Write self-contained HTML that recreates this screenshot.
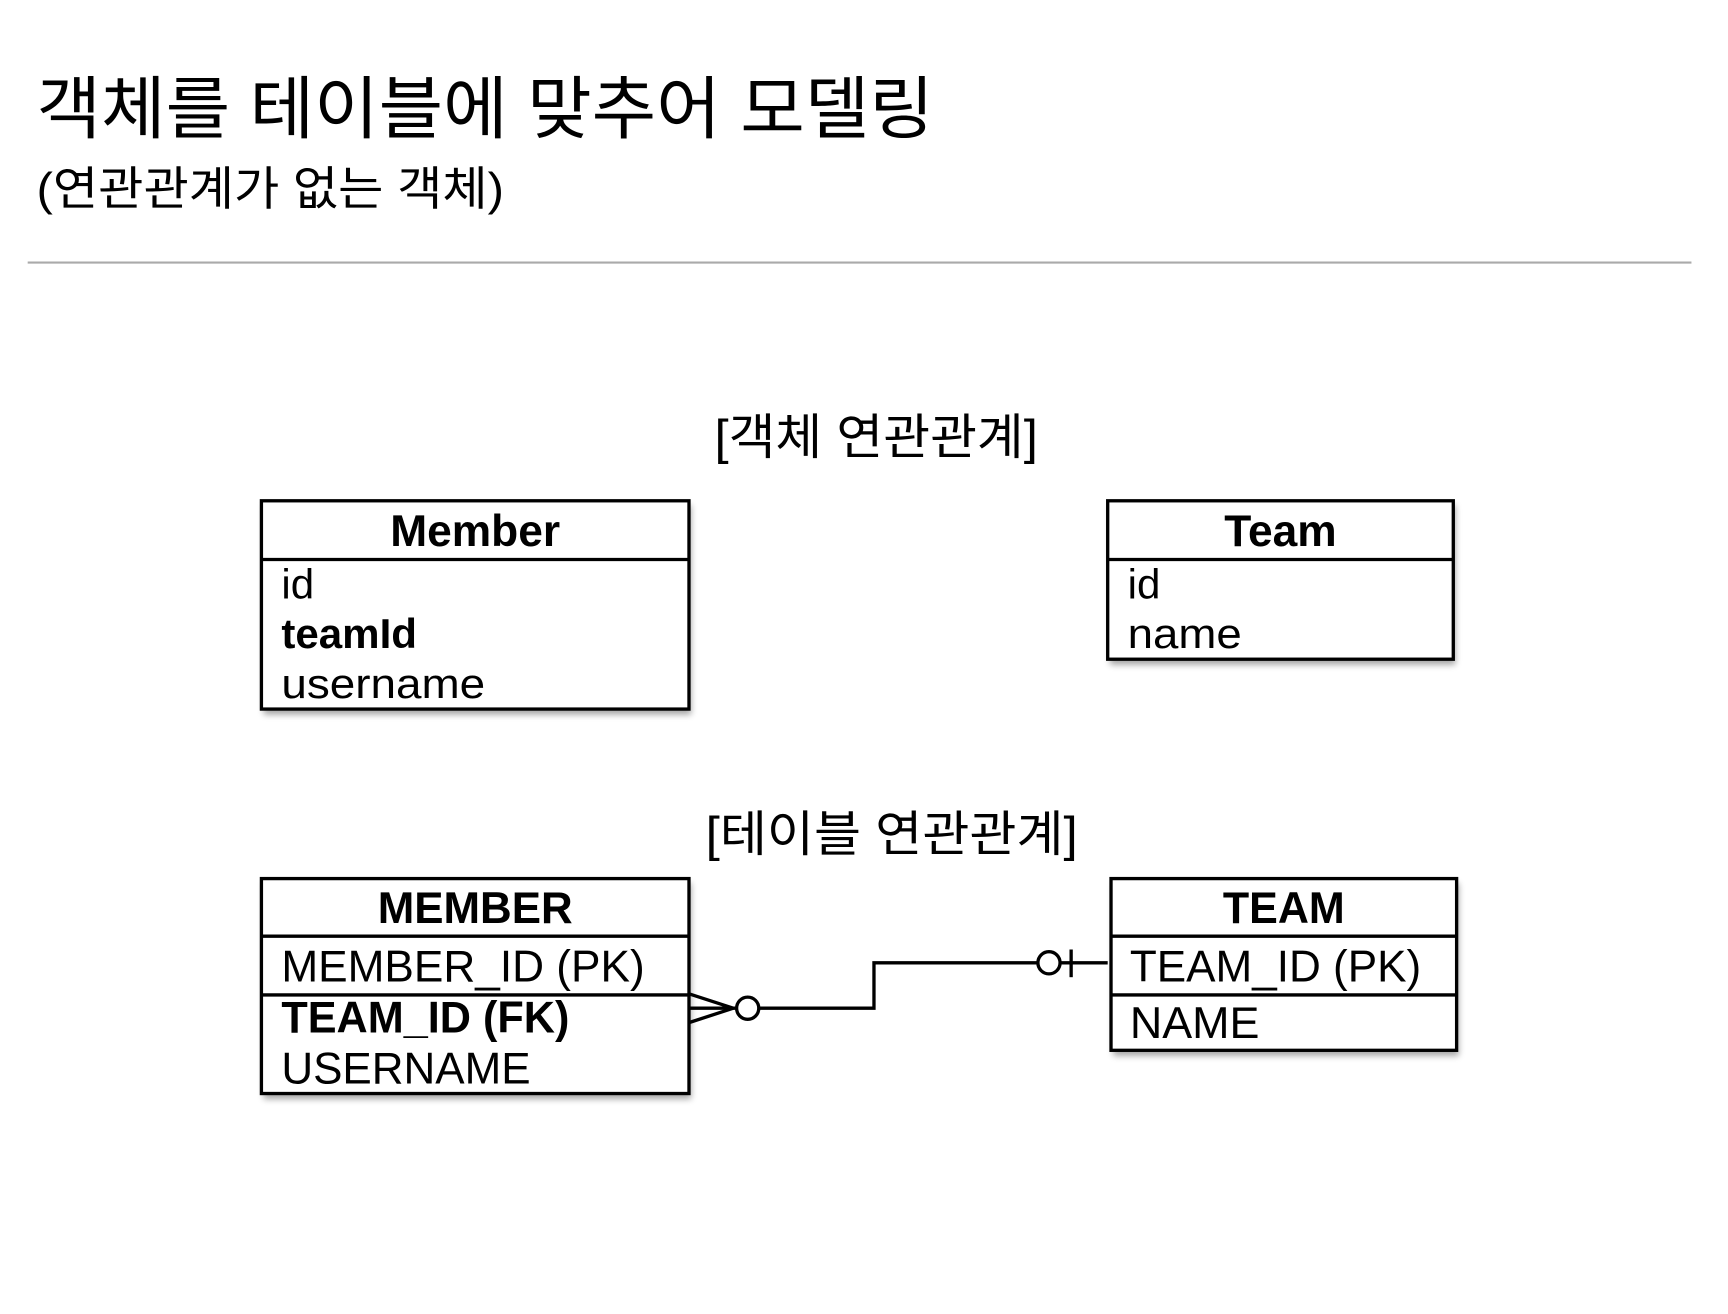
<!DOCTYPE html>
<html><head><meta charset="utf-8"><style>
html,body{margin:0;padding:0;background:#fff;width:1728px;height:1314px;overflow:hidden}
svg{display:block}
text{font-family:"Liberation Sans","Noto Sans CJK KR",sans-serif;fill:#000}
.b{font-weight:bold}
</style></head><body>
<svg width="1728" height="1314" viewBox="0 0 1560 1186" preserveAspectRatio="none" xmlns="http://www.w3.org/2000/svg">
<defs><filter id="sh" x="-10%" y="-10%" width="120%" height="130%"><feGaussianBlur stdDeviation="3"/></filter></defs>
<text x="33" y="120" font-size="62" textLength="810" lengthAdjust="spacingAndGlyphs">객체를 테이블에 맞추어 모델링</text>
<text x="33" y="185" font-size="42" textLength="422" lengthAdjust="spacingAndGlyphs">(연관관계가 없는 객체)</text>
<line x1="25" y1="237" x2="1527" y2="237" stroke="#aaa" stroke-width="2"/>

<text x="645" y="410" font-size="44" textLength="292" lengthAdjust="spacingAndGlyphs">[객체 연관관계]</text>

<g fill="#000" opacity="0.35" filter="url(#sh)">
<rect x="238" y="456" width="386" height="189"/>
<rect x="1002" y="456" width="312" height="144"/>
<rect x="238" y="797" width="386" height="195"/>
<rect x="1005" y="797" width="312" height="156"/>
</g>

<g fill="#fff" stroke="#000" stroke-width="3">
<rect x="236" y="452" width="386" height="188"/>
<rect x="1000" y="452" width="312" height="143"/>
<rect x="236" y="793" width="386" height="194"/>
<rect x="1003" y="793" width="312" height="155"/>
</g>
<g stroke="#000" stroke-width="3">
<line x1="236" y1="505" x2="622" y2="505"/>
<line x1="1000" y1="505" x2="1312" y2="505"/>
<line x1="236" y1="845" x2="622" y2="845"/>
<line x1="236" y1="898" x2="622" y2="898"/>
<line x1="1003" y1="845" x2="1315" y2="845"/>
<line x1="1003" y1="898" x2="1315" y2="898"/>
</g>

<text class="b" x="429" y="493" font-size="40" text-anchor="middle">Member</text>
<text x="254" y="540" font-size="38">id</text>
<text class="b" x="254" y="585" font-size="38">teamId</text>
<text x="254" y="630" font-size="38" textLength="184" lengthAdjust="spacingAndGlyphs">username</text>

<text class="b" x="1156" y="493" font-size="40" text-anchor="middle">Team</text>
<text x="1018" y="540" font-size="38">id</text>
<text x="1018" y="585" font-size="38" textLength="103" lengthAdjust="spacingAndGlyphs">name</text>

<text x="637" y="768" font-size="44" textLength="336" lengthAdjust="spacingAndGlyphs">[테이블 연관관계]</text>

<text class="b" x="429" y="833" font-size="40" text-anchor="middle" textLength="176" lengthAdjust="spacingAndGlyphs">MEMBER</text>
<text x="254" y="886" font-size="40" textLength="328" lengthAdjust="spacingAndGlyphs">MEMBER_ID (PK)</text>
<text class="b" x="254" y="932" font-size="40" textLength="260" lengthAdjust="spacingAndGlyphs">TEAM_ID (FK)</text>
<text x="254" y="978" font-size="40" textLength="225" lengthAdjust="spacingAndGlyphs">USERNAME</text>

<text class="b" x="1159" y="833" font-size="40" text-anchor="middle" textLength="110" lengthAdjust="spacingAndGlyphs">TEAM</text>
<text x="1020" y="886" font-size="40" textLength="263" lengthAdjust="spacingAndGlyphs">TEAM_ID (PK)</text>
<text x="1020" y="937" font-size="40" textLength="117" lengthAdjust="spacingAndGlyphs">NAME</text>

<g stroke="#000" stroke-width="3" fill="none">
<line x1="622" y1="897" x2="662" y2="910"/>
<line x1="622" y1="923" x2="662" y2="910"/>
<line x1="622" y1="910" x2="665" y2="910"/>
<circle cx="675" cy="910" r="10" fill="#fff"/>
<polyline points="685,910 789,910 789,869 937,869"/>
<circle cx="947" cy="869" r="10" fill="#fff"/>
<line x1="957" y1="869" x2="1000" y2="869"/>
<line x1="967" y1="857" x2="967" y2="882"/>
</g>
</svg>
</body></html>
